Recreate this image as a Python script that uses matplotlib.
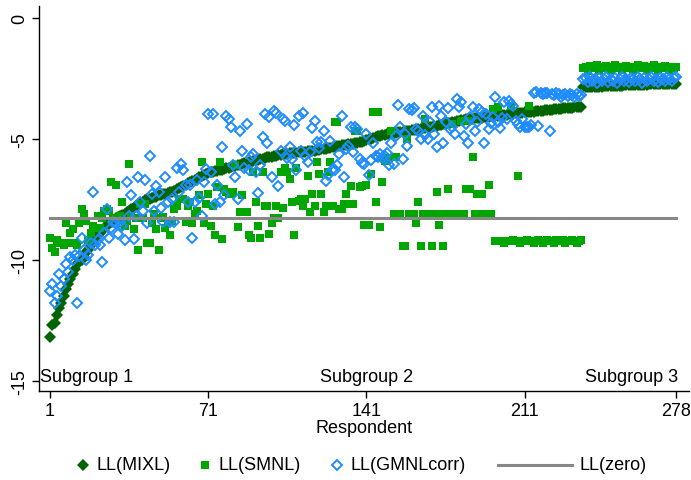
import matplotlib
matplotlib.use("Agg")
import matplotlib.pyplot as plt
import numpy as np

plt.rcParams['font.family'] = ['Liberation Sans', 'DejaVu Sans']

# log-likelihood per respondent
ll_mixl = [
    -13.2, -12.7, -12.6, -12.3, -12.0, -11.8, -11.5, -11.2, -11.0, -10.8,
    -10.6, -10.4, -10.2, -10.1, -10.0, -9.9, -9.7, -9.6, -9.4, -9.3,
    -9.1, -9.0, -8.9, -8.8, -8.7, -8.6, -8.5, -8.45, -8.4, -8.3,
    -8.25, -8.2, -8.15, -8.1, -8.05, -8.0, -7.9, -7.85, -7.8, -7.7,
    -7.65, -7.6, -7.55, -7.5, -7.5, -7.45, -7.4, -7.4, -7.35, -7.35,
    -7.3, -7.3, -7.25, -7.2, -7.2, -7.15, -7.1, -7.05, -7.0, -6.95,
    -6.9, -6.85, -6.8, -6.75, -6.7, -6.65, -6.6, -6.55, -6.5, -6.45,
    -6.42, -6.4, -6.37, -6.35, -6.32, -6.3, -6.28, -6.25, -6.22, -6.2,
    -6.18, -6.15, -6.12, -6.1, -6.07, -6.05, -6.02, -6.0, -5.98, -5.96,
    -5.93, -5.9, -5.88, -5.85, -5.83, -5.8, -5.78, -5.76, -5.74, -5.72,
    -5.7, -5.68, -5.66, -5.64, -5.63, -5.62, -5.61, -5.6, -5.59, -5.58,
    -5.57, -5.56, -5.55, -5.54, -5.53, -5.52, -5.51, -5.5, -5.49, -5.47,
    -5.45, -5.43, -5.41, -5.39, -5.37, -5.35, -5.33, -5.31, -5.3, -5.28,
    -5.27, -5.25, -5.24, -5.22, -5.21, -5.2, -5.18, -5.15, -5.12, -5.09,
    -5.06, -5.03, -5.0, -4.97, -4.94, -4.91, -4.88, -4.86, -4.84, -4.82,
    -4.8, -4.78, -4.76, -4.75, -4.74, -4.72, -4.71, -4.7, -4.68, -4.67,
    -4.66, -4.64, -4.63, -4.62, -4.6, -4.58, -4.56, -4.54, -4.52, -4.5,
    -4.48, -4.46, -4.44, -4.42, -4.4, -4.38, -4.36, -4.34, -4.32, -4.3,
    -4.28, -4.26, -4.25, -4.23, -4.21, -4.2, -4.18, -4.17, -4.16, -4.15,
    -4.14, -4.13, -4.11, -4.1, -4.09, -4.08, -4.07, -4.06, -4.05, -4.04,
    -4.03, -4.02, -4.01, -4.0, -3.99, -3.98, -3.96, -3.95, -3.94, -3.93,
    -3.92, -3.91, -3.9, -3.89, -3.88, -3.87, -3.86, -3.85, -3.84, -3.83,
    -3.82, -3.81, -3.8, -3.79, -3.78, -3.77, -3.76, -3.75, -3.74, -3.73,
    -3.72, -3.72, -3.71, -3.71, -3.7, -3.7,
    -2.88, -2.88, -2.87, -2.87, -2.86, -2.86, -2.86, -2.85, -2.85, -2.84,
    -2.84, -2.83, -2.83, -2.83, -2.82, -2.82, -2.81, -2.81, -2.8, -2.8,
    -2.8, -2.79, -2.79, -2.78, -2.78, -2.78, -2.77, -2.77, -2.77, -2.76,
    -2.76, -2.76, -2.75, -2.75, -2.75, -2.75, -2.74, -2.74, -2.74, -2.74,
    -2.73, -2.73,
]

ll_smnl = [
    -9.1, -9.5, -9.7, -9.2, -9.3, -9.3, -9.4, -8.5, -9.3, -8.9,
    -8.75, -9.3, -9.4, -8.5, -7.9, -8.1, -8.4, -9.2, -8.9, -8.6,
    -8.7, -8.2, -8.7, -8.3, -8.0, -7.9, -8.0, -6.8, -8.3, -6.9,
    -8.3, -8.2, -7.6, -8.6, -8.4, -6.05, -8.2, -8.75, -8.3, -9.6,
    -7.7, -8.3, -7.7, -9.3, -9.3, -8.5, -8.1, -8.75, -9.6, -8.3,
    -8.25, -8.7, -8.45, -9.0, -8.4, -7.9, -7.8, -7.5, -7.5, -7.5,
    -8.45, -7.8, -7.6, -8.5, -8.1, -8.0, -7.35, -5.95, -8.5, -7.7,
    -7.3, -8.6, -7.8, -9.0, -7.0, -5.97, -9.15, -7.1, -7.2, -7.3,
    -7.3, -7.2, -6.1, -8.65, -8.05, -7.35, -8.05, -8.05, -9.0, -9.1,
    -6.4, -7.6, -8.6, -9.1, -6.4, -7.8, -7.8, -8.95, -8.5, -8.3,
    -7.8, -8.3, -6.4, -7.85, -6.2, -6.4, -6.67, -7.6, -9.0, -6.2,
    -7.57, -7.5, -7.8, -7.5, -6.55, -8.05, -7.3, -7.8, -5.97, -6.47,
    -7.3, -8.05, -7.8, -6.4, -5.97, -7.8, -4.3, -4.3, -7.9, -7.9,
    -7.7, -7.3, -7.7, -6.95, -7.7, -4.7, -4.7, -7.0, -6.95, -8.55,
    -6.9, -8.57, -6.47, -3.9, -7.6, -3.9, -8.65, -6.8, -5.93, -5.9,
    -5.8, -4.7, -8.1, -5.77, -8.1, -8.1, -9.45, -9.45, -5.0, -8.1,
    -8.1, -8.1, -8.5, -7.6, -9.45, -8.1, -4.2, -8.1, -8.1, -9.45,
    -8.1, -7.2, -8.57, -8.1, -9.45, -8.1, -7.1, -8.1, -4.4, -8.1,
    -8.1, -8.1, -4.27, -8.1, -7.1, -4.27, -7.1, -5.76, -8.1, -7.3,
    -8.1, -7.3, -8.1, -8.1, -6.9, -8.1, -3.78, -9.25, -3.7, -9.25,
    -9.25, -9.3, -9.25, -9.25, -3.65, -9.2, -9.25, -6.55, -9.3, -9.25,
    -9.25, -9.2, -3.65, -9.25, -9.3, -9.25, -9.2, -9.25, -9.3, -9.25,
    -9.2, -9.25, -9.25, -9.3, -9.2, -9.25, -9.25, -9.2, -9.3, -9.25,
    -9.25, -9.2, -9.25, -9.3, -9.25, -9.2,
    -2.1, -2.05, -2.2, -2.0, -2.1, -2.05, -1.95, -2.15, -2.05, -2.1,
    -2.0, -2.05, -2.15, -2.1, -1.95, -2.05, -2.1, -2.15, -2.05, -2.0,
    -2.1, -2.05, -2.15, -2.05, -1.95, -2.1, -2.05, -2.0, -2.15, -2.05,
    -2.1, -1.95, -2.05, -2.15, -2.05, -2.1, -2.0, -2.05, -2.15, -2.05,
    -2.1, -2.05,
]

ll_gmnl = [
    -11.3, -11.0, -11.8, -11.5, -10.6, -11.1, -10.8, -10.2, -10.5, -9.9,
    -10.0, -9.8, -11.8, -9.85, -9.1, -9.6, -10.0, -9.8, -9.3, -7.2,
    -9.4, -9.2, -9.4, -10.1, -8.9, -7.9, -9.1, -8.7, -8.45, -8.5,
    -8.95, -8.45, -8.6, -9.2, -6.8, -8.2, -7.35, -9.15, -8.2, -6.6,
    -7.6, -8.0, -6.7, -8.5, -5.7, -7.3, -8.0, -6.95, -7.2, -7.85,
    -8.45, -6.6, -7.6, -8.45, -7.5, -8.45, -6.2, -7.2, -6.05, -6.3,
    -6.9, -7.6, -6.9, -9.1, -7.6, -6.7, -7.45, -8.2, -6.8, -6.25,
    -4.0, -6.4, -4.0, -7.7, -6.9, -7.6, -5.35, -7.35, -4.07, -4.2,
    -4.5, -6.1, -6.6, -7.5, -4.7, -5.5, -6.2, -4.4, -6.3, -5.75,
    -5.65, -6.4, -7.25, -6.1, -4.95, -3.98, -5.2, -4.1, -6.6, -3.85,
    -3.95, -6.95, -5.5, -4.2, -4.27, -5.8, -5.35, -5.85, -4.45, -6.3,
    -4.07, -5.5, -3.95, -5.7, -5.97, -5.55, -4.57, -4.27, -5.15, -5.4,
    -5.15, -4.7, -6.75, -6.5, -5.1, -6.25, -6.3, -6.1, -5.65, -4.07,
    -6.6, -5.45, -5.3, -4.5, -5.55, -4.5, -4.6, -5.85, -6.0, -6.05,
    -4.8, -6.5, -5.9, -5.2, -5.7, -5.75, -5.65, -5.8, -5.7, -5.6,
    -6.1, -5.2, -6.05, -4.9, -3.6, -4.5, -5.85, -4.8, -5.3, -3.78,
    -3.8, -3.75, -4.6, -4.7, -5.0, -4.07, -4.85, -5.0, -4.3, -3.7,
    -4.8, -5.35, -3.65, -4.07, -5.2, -4.3, -3.75, -4.6, -4.5, -4.8,
    -3.37, -3.7, -3.5, -4.9, -4.4, -5.2, -4.1, -3.7, -4.7, -4.3,
    -3.78, -3.9, -5.2, -4.0, -4.6, -4.35, -4.1, -3.3, -4.3, -4.57,
    -4.15, -3.5, -4.2, -3.45, -3.55, -3.65, -4.27, -4.4, -4.5, -4.2,
    -4.5, -4.5, -4.5, -4.45, -3.1, -3.07, -4.48, -3.1, -3.15, -3.12,
    -3.1, -4.7, -3.15, -3.2, -3.1, -3.15, -3.3, -3.2, -3.15, -3.25,
    -3.15, -3.2, -3.3, -3.15, -3.25, -3.2,
    -2.55, -2.5, -2.65, -2.45, -2.6, -2.55, -2.7, -2.5, -2.6, -2.55,
    -2.45, -2.65, -2.55, -2.6, -2.5, -2.7, -2.55, -2.45, -2.6, -2.55,
    -2.65, -2.5, -2.55, -2.6, -2.45, -2.55, -2.7, -2.5, -2.6, -2.55,
    -2.45, -2.6, -2.55, -2.65, -2.5, -2.55, -2.6, -2.45, -2.55, -2.6,
    -2.5, -2.45,
]

ll_zero = -8.3
x_ticks = [1, 71, 141, 211, 278]
y_ticks = [0, -5, -10, -15]
subgroups = ["Subgroup 1", "Subgroup 2", "Subgroup 3"]

resp = np.arange(1, len(ll_mixl) + 1)

c_mixl = '#006400'
c_smnl = '#00a600'
c_gmnl = '#1e8cff'
c_zero = '#888888'

mk_mixl = dict(marker='D', color=c_mixl, ms=6.0, mew=0, linestyle='none')
mk_smnl = dict(marker='s', color=c_smnl, ms=5.8, mew=0, linestyle='none')
mk_gmnl = dict(marker='D', mfc='none', mec=c_gmnl, ms=4.7, mew=1.4, linestyle='none')

fig = plt.figure(figsize=(6.91, 4.81), dpi=100)
ax = fig.add_axes([39 / 691, 89 / 481, 650 / 691, 385 / 481])

ax.plot(resp, ll_mixl, **mk_mixl)
ax.plot(resp, ll_smnl, **mk_smnl)
ax.plot(resp, ll_gmnl, **mk_gmnl)
ax.plot([1, resp[-1]], [ll_zero, ll_zero], color=c_zero, lw=2.2)

ax.set_xlim(-3.9, 283.7)
ax.set_ylim(-15.43, 0.48)
ax.set_xticks(x_ticks)
ax.set_yticks(y_ticks)
ax.set_yticklabels([str(v) for v in y_ticks], rotation=90, va='center')
ax.tick_params(labelsize=13, length=5, width=1, pad=3)
for s in ['top', 'right']:
    ax.spines[s].set_visible(False)
for s in ['left', 'bottom']:
    ax.spines[s].set_linewidth(1)
ax.set_xlabel('Respondent', fontsize=13, labelpad=0)

ax.text(-3.5, -14.85, subgroups[0], fontsize=13, ha='left', va='center')
ax.text(141, -14.85, subgroups[1], fontsize=13, ha='center', va='center')
ax.text(279, -14.85, subgroups[2], fontsize=13, ha='right', va='center')

# legend row along the bottom
lax = fig.add_axes([0, 0, 1, 1])
lax.set_xlim(0, 691)
lax.set_ylim(481, 0)
lax.axis('off')
ly = 466
lax.plot([83], [ly], **mk_mixl)
lax.text(97, ly, 'LL(MIXL)', fontsize=13, va='center')
lax.plot([205], [ly], **mk_smnl)
lax.text(219, ly, 'LL(SMNL)', fontsize=13, va='center')
lax.plot([337], [ly], **mk_gmnl)
lax.text(351, ly, 'LL(GMNLcorr)', fontsize=13, va='center')
lax.plot([498, 572], [ly, ly], color=c_zero, lw=2.2)
lax.text(580, ly, 'LL(zero)', fontsize=13, va='center')

fig.savefig('out.png', dpi=100)
